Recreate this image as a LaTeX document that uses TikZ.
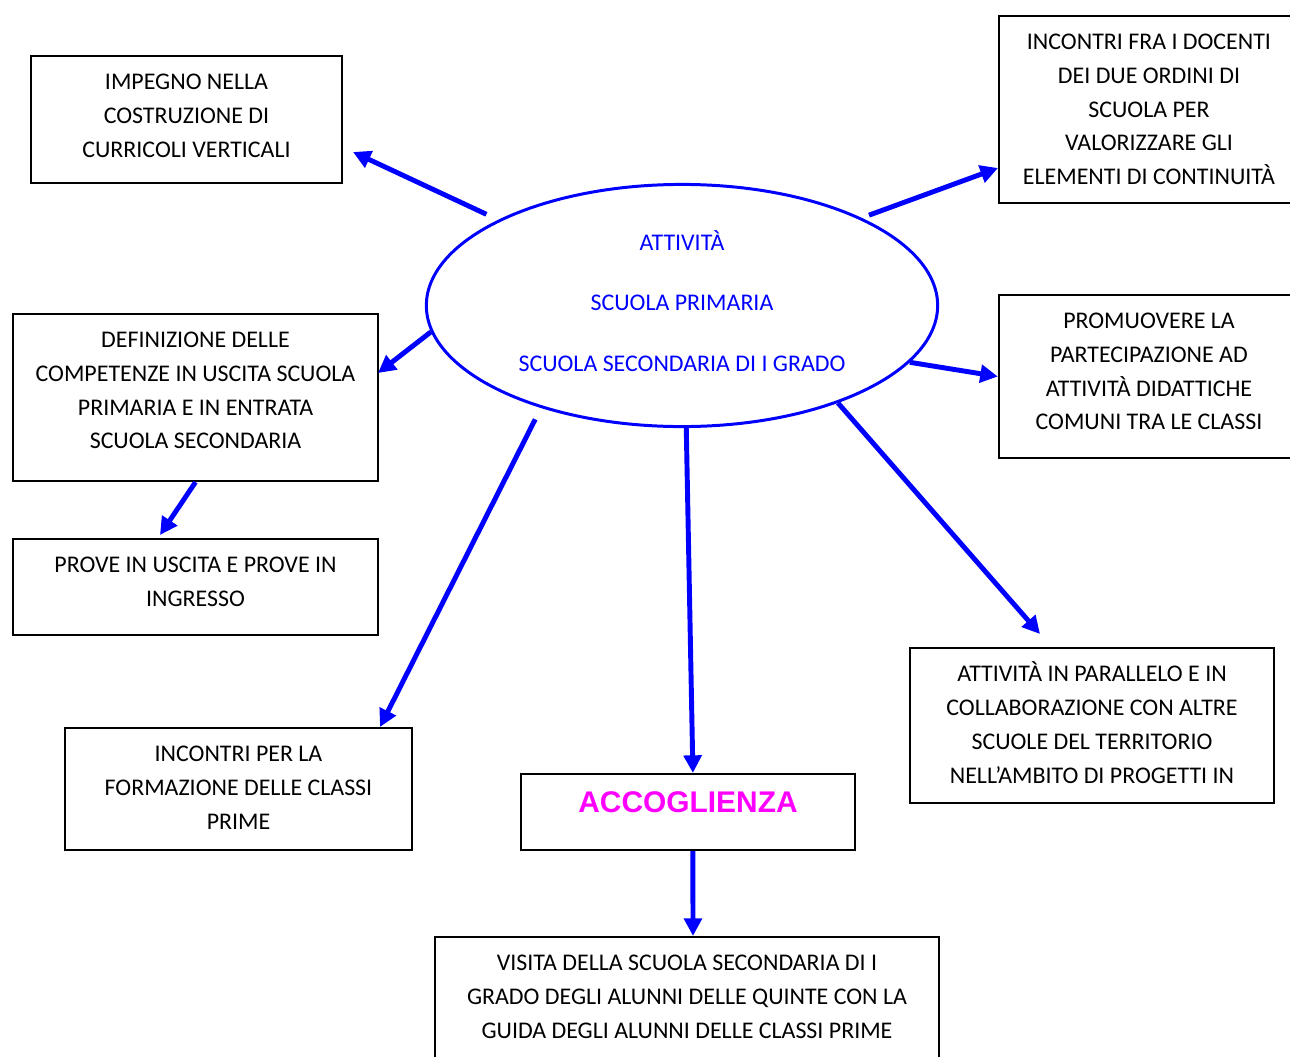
\documentclass[tikz,border=0pt]{standalone}
\usepackage{fontspec}
\setmainfont{Carlito}
\newfontfamily\arialfont{Liberation Sans}
\usetikzlibrary{arrows.meta,shapes,positioning}
\definecolor{accmagenta}{RGB}{255,0,255}
\definecolor{mapblue}{RGB}{0,0,255}
\newcommand{\boxtext}{\fontsize{6.8}{9.6}\selectfont}
% text set at the top of a box: width, height, lines
\newcommand{\inbox}[3]{\parbox[c][#2][t]{#1}{\centering\rule{0pt}{9.6pt}#3}}
\tikzstyle{box} = [draw, line width=0.6pt, align=center, inner sep=0pt,
    font=\boxtext]
\tikzstyle{oval} = [draw=mapblue, ellipse, line width=0.85pt, text=mapblue,
    inner sep=0pt, minimum width=5.11cm, minimum height=2.42cm,
    font=\fontsize{6.8}{17.2}\selectfont]
\tikzstyle{arr} = [-{Triangle[length=5pt,width=5pt]}, mapblue, line width=1.4pt]

\begin{document}
\begin{tikzpicture}[x=0.01cm, y=-0.01cm]
  \useasboundingbox (0,0) rectangle (1290,1057);
  % Place nodes
  \node [oval] (att) at (682,305.5)
    {\parbox[c][1.5cm][t]{3.5cm}{\centering\rule{0pt}{5.55pt}ATTIVITÀ\\SCUOLA PRIMARIA\\SCUOLA SECONDARIA DI I GRADO}};
  \node [box] (imp) at (186.5,119.5)
    {\inbox{3.11cm}{1.27cm}{IMPEGNO NELLA\\COSTRUZIONE DI\\CURRICOLI VERTICALI}};
  \node [box] (fra) at (1149,109.5)
    {\inbox{3cm}{1.87cm}{INCONTRI FRA I DOCENTI\\DEI DUE ORDINI DI\\SCUOLA PER\\VALORIZZARE GLI\\ELEMENTI DI CONTINUITÀ}};
  \node [box] (def) at (195.5,397.5)
    {\inbox{3.65cm}{1.67cm}{DEFINIZIONE DELLE\\COMPETENZE IN USCITA SCUOLA\\PRIMARIA E IN ENTRATA\\SCUOLA SECONDARIA}};
  \node [box] (pro) at (195.5,587)
    {\inbox{3.65cm}{0.96cm}{PROVE IN USCITA E PROVE IN\\INGRESSO}};
  \node [box] (prom) at (1149,376.5)
    {\inbox{3cm}{1.63cm}{PROMUOVERE LA\\PARTECIPAZIONE AD\\ATTIVITÀ DIDATTICHE\\COMUNI TRA LE CLASSI}};
  \node [box] (per) at (238.5,789)
    {\inbox{3.47cm}{1.22cm}{INCONTRI PER LA\\FORMAZIONE DELLE CLASSI\\PRIME}};
  \node [box, minimum width=3.34cm, minimum height=0.76cm, text=accmagenta,
    font=\arialfont\bfseries\fontsize{8.5}{10}\selectfont,
    text height=6pt, text depth=6pt] (acc) at (688,812) {ACCOGLIENZA};
  \node [box] (par) at (1092,725.5)
    {\inbox{3.64cm}{1.55cm}{ATTIVITÀ IN PARALLELO E IN\\COLLABORAZIONE CON ALTRE\\SCUOLE DEL TERRITORIO\\NELL’AMBITO DI PROGETTI IN}};
  \node [box] (vis) at (687,998.5)
    {\inbox{5.04cm}{1.23cm}{VISITA DELLA SCUOLA SECONDARIA DI I\\GRADO DEGLI ALUNNI DELLE QUINTE CON LA\\GUIDA DEGLI ALUNNI DELLE CLASSI PRIME}};
  % arrow tips
  \coordinate (t1) at (353,152);
  \coordinate (t2) at (998,168);
  \coordinate (t3) at (378,373);
  \coordinate (t5) at (160,535);
  \coordinate (t6) at (380,727);
  \coordinate (t8) at (1040,634);
  % Draw arrows
  \draw [arr, shorten <=3.7pt] (att.155.6) -- (t1);
  \draw [arr, shorten <=2.2pt] (att.26.1) -- (t2);
  \draw [arr] (att.186.7) -- (t3);
  \draw [arr] (att.346.1) -- (prom.west);
  \draw [arr] (def.south) -- (t5);
  \draw [arr, shorten <=3.6pt] (att.216.9) -- (t6);
  \draw [arr] (att.272.8) -- ([xshift=1.4pt]acc.north);
  \draw [arr] (att.328.2) -- (t8);
  \draw [arr] ([xshift=1.4pt]acc.south) -- ([xshift=1.7pt]vis.north);
\end{tikzpicture}
\end{document}
